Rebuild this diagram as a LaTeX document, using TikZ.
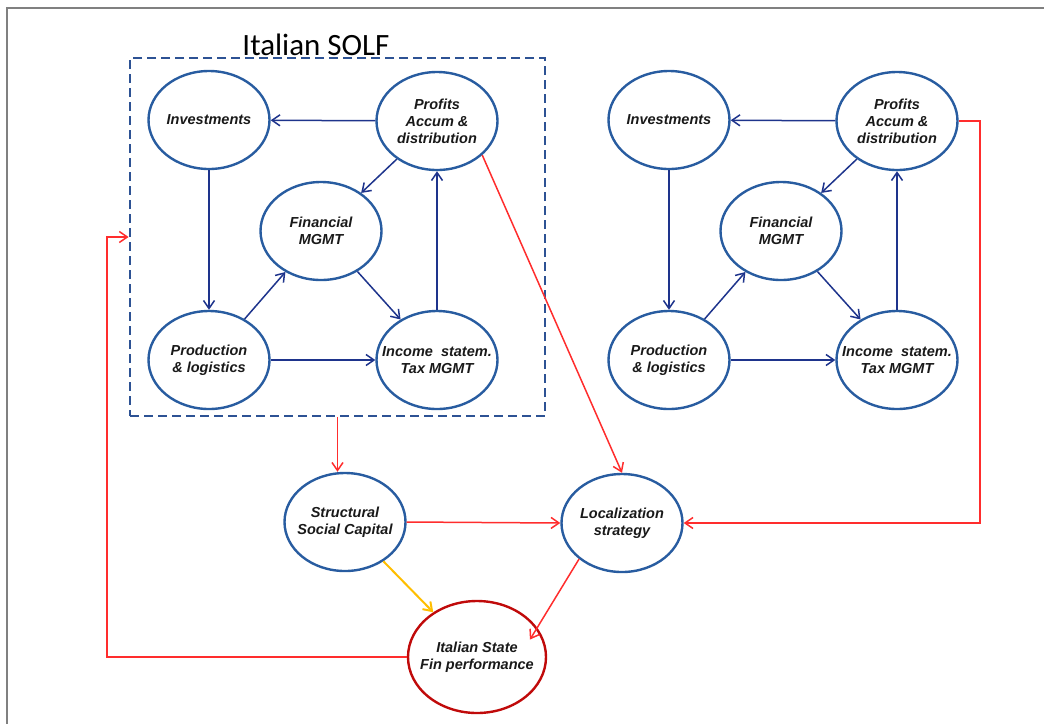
\documentclass[tikz,border=0pt]{standalone}
\usepackage{fontspec}
\setmainfont{Liberation Sans}
\newfontfamily\titlefont{Carlito}
\usetikzlibrary{shapes.geometric, arrows.meta, calc}

\definecolor{ringblue}{RGB}{40,92,160}
\definecolor{flowblue}{RGB}{30,52,140}
\definecolor{boxblue}{RGB}{45,82,148}
\definecolor{flowred}{RGB}{255,45,45}
\definecolor{statered}{RGB}{192,10,10}
\definecolor{floworange}{RGB}{255,190,0}

\newcommand{\bagfont}{\fontsize{14.5}{17}\selectfont\bfseries\itshape}

\begin{document}
\begin{tikzpicture}[x=1pt, y=-1pt,
    % Styles for the ellipses (negative xsep: the size is fixed, text may overhang)
    bag/.style={ellipse, draw=ringblue, line width=2.4pt, inner xsep=-30pt, inner ysep=0pt,
        minimum width=121pt, minimum height=98pt, align=center,
        font=\bagfont, text=black!90},
    statebag/.style={bag, draw=statered, minimum width=138pt, minimum height=112pt},
    % Styles for the connectors
    blueflow/.style={draw=flowblue, line width=1.5pt, -{Straight Barb[length=8pt, width=11pt]}},
    redflow/.style={blueflow, draw=flowred},
    orangeflow/.style={blueflow, draw=floworange, line width=2pt},
    solfbox/.style={draw=boxblue, line width=2.8pt, dash pattern=on 9pt off 5pt,
        minimum width=415pt, minimum height=358pt, inner sep=0pt},
    frame/.style={draw=black!50, line width=1.6pt}
]
    \useasboundingbox (0,0) rectangle (1044,724);

    % --- Outer frame ---
    \draw[frame] (1044,8) -- (7,8) -- (7,724);

    % --- Dashed box and title ---
    \node[solfbox] (solf) at (337.5,237) {};
    \node[font=\titlefont\fontsize{31}{36}\selectfont, text=black] (title) at (316,45) {Italian SOLF};

    % ================= TWO FIRMS =================
    % Same layout twice, the right one shifted by \dx
    \foreach \g/\dx in {L/0, R/460} {
        \node[bag] (inv\g)  at (209+\dx,120) {Investments};
        \node[bag] (prof\g) at (437+\dx,121) {Profits\\Accum \&\\distribution};
        \node[bag] (fin\g)  at (321+\dx,231) {Financial\\MGMT};
        \node[bag] (prod\g) at (209+\dx,360) {Production\\\& logistics};
        \node[bag] (inc\g)  at (437+\dx,360) {Income\ \ statem.\\Tax MGMT};

        % --- Connect the firm ---
        \draw[blueflow] (prof\g) -- (inv\g);
        \draw[blueflow] (prof\g) -- (fin\g);
        \draw[blueflow] (inv\g) -- (prod\g);
        \draw[blueflow] (prod\g) -- (fin\g);
        \draw[blueflow] (fin\g) -- (inc\g);
        \draw[blueflow] (prod\g) -- (inc\g);
        \draw[blueflow] (inc\g.north) -- (prof\g.south);
    }

    % ================= LOWER PART =================
    \node[bag] (ssc) at (345,522) {Structural\\Social  Capital};
    \node[bag] (loc) at (622,523) {Localization\\strategy};
    \node[statebag] (state) at (477,657) {Italian  State\\Fin performance};

    \coordinate (rcorner) at (980,121);
    \coordinate (lcorner) at (107,237);

    % --- Red and orange links ---
    \draw[redflow] (solf.south) -- (solf.south |- ssc.north);
    \draw[redflow] (profL.-37) -- (loc.north);
    \draw[redflow] (ssc.east) -- (loc.west);
    \draw[redflow] (profR.east) -- (rcorner) |- (loc.east);
    \draw[redflow, shorten >=-14pt] (loc.220) -- (state.26);
    \draw[redflow] (state.west) -| (lcorner) -- (solf.west);
    \draw[orangeflow] (ssc) -- (state);

\end{tikzpicture}
\end{document}
